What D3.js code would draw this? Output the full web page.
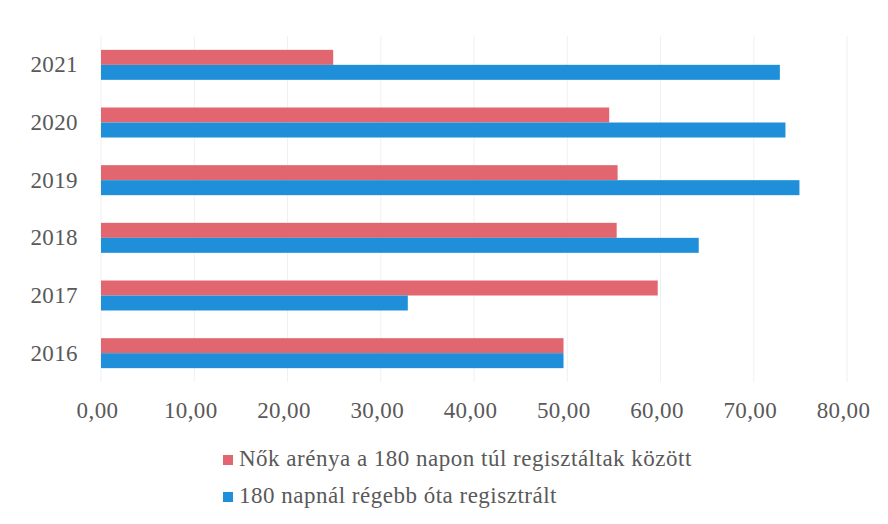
<!DOCTYPE html>
<html>
<head>
<meta charset="utf-8">
<script src="https://cdn.jsdelivr.net/npm/d3@7"></script>
<style>
    body { margin: 0; background: #fff; }
    text { font-family: "Liberation Serif", serif; fill: #595959; }
</style>
</head>
<body>
<div class="chart"></div>
<script>
const years = ["2021", "2020", "2019", "2018", "2017", "2016"];
const seriesNames = ["Nők arénya a 180 napon túl regisztáltak között", "180 napnál régebb óta regisztrált"];
const women = [24.9, 54.5, 55.4, 55.3, 59.7, 49.6];
const longTerm = [72.8, 73.4, 74.9, 64.1, 32.9, 49.6];
const xTicks = [0, 10, 20, 30, 40, 50, 60, 70, 80];

const colors = ["#E2666F", "#1E8FD8"];

const svgWidth = 888;
const svgHeight = 524;

let svg = d3.select(".chart")
    .append("svg")
    .attr("width", svgWidth)
    .attr("height", svgHeight)

let xScale = d3.scaleLinear()
    .domain([0, 80])
    .range([101, 847])

let yScale = d3.scaleBand()
    .domain(years)
    .range([36, 382])
    .paddingInner(0.48)
    .paddingOuter(0.24)

let subScale = d3.scaleBand()
    .domain([0, 1])
    .range([0, yScale.bandwidth()])

// faint gridlines
svg.append("g")
    .selectAll("line")
    .data(xTicks)
    .enter()
    .append("line")
    .attr("x1", d => xScale(d))
    .attr("x2", d => xScale(d))
    .attr("y1", 36)
    .attr("y2", 382)
    .style("stroke", "#f0f0f0")
    .style("stroke-width", 1)

const rows = years.map((y, i) => ({year: y, values: [women[i], longTerm[i]]}))

let groups = svg.selectAll(".row")
    .data(rows)
    .enter()
    .append("g")
    .attr("class", "row")
    .attr("transform", d => `translate(0, ${yScale(d.year)})`)

groups.selectAll("rect")
    .data(d => d.values)
    .enter()
    .append("rect")
    .attr("x", xScale(0))
    .attr("y", (d, i) => subScale(i))
    .attr("width", d => xScale(d) - xScale(0))
    .attr("height", subScale.bandwidth())
    .style("fill", (d, i) => colors[i])

let xAxis = d3.axisBottom()
    .scale(xScale)
    .tickValues(xTicks)
    .tickFormat(d => d3.format(".2f")(d).replace(".", ","))
    .tickSize(0)
    .tickPadding(20)

// labels sit a few px left of their gridlines in the original
let xAxisGroup = svg.append("g")
    .attr("transform", `translate(-4, 382)`)
    .call(xAxis)
xAxisGroup.select(".domain").remove()
xAxisGroup.selectAll("text")
    .style("font-family", "Liberation Serif")
    .style("font-size", "23px")
    .style("letter-spacing", "0.4px")
    .style("fill", "#595959")

let yAxis = d3.axisLeft()
    .scale(yScale)
    .tickSize(0)
    .tickPadding(23)

let yAxisGroup = svg.append("g")
    .attr("transform", `translate(${xScale(0)}, 0)`)
    .call(yAxis)
yAxisGroup.select(".domain").remove()
yAxisGroup.selectAll("text")
    .style("font-family", "Liberation Serif")
    .style("font-size", "23px")
    .style("letter-spacing", "0.4px")
    .style("fill", "#595959")

// legend
let legend = svg.selectAll(".legend")
    .data(seriesNames)
    .enter()
    .append("g")
    .attr("class", "legend")
    .attr("transform", (d, i) => `translate(223, ${455 + i * 37})`)

legend.append("rect")
    .attr("width", 10)
    .attr("height", 10)
    .style("fill", (d, i) => colors[i])

legend.append("text")
    .attr("x", 16)
    .attr("y", 11)
    .style("font-size", "23px")
    .style("letter-spacing", "0.5px")
    .text(d => d)
</script>
</body>
</html>
